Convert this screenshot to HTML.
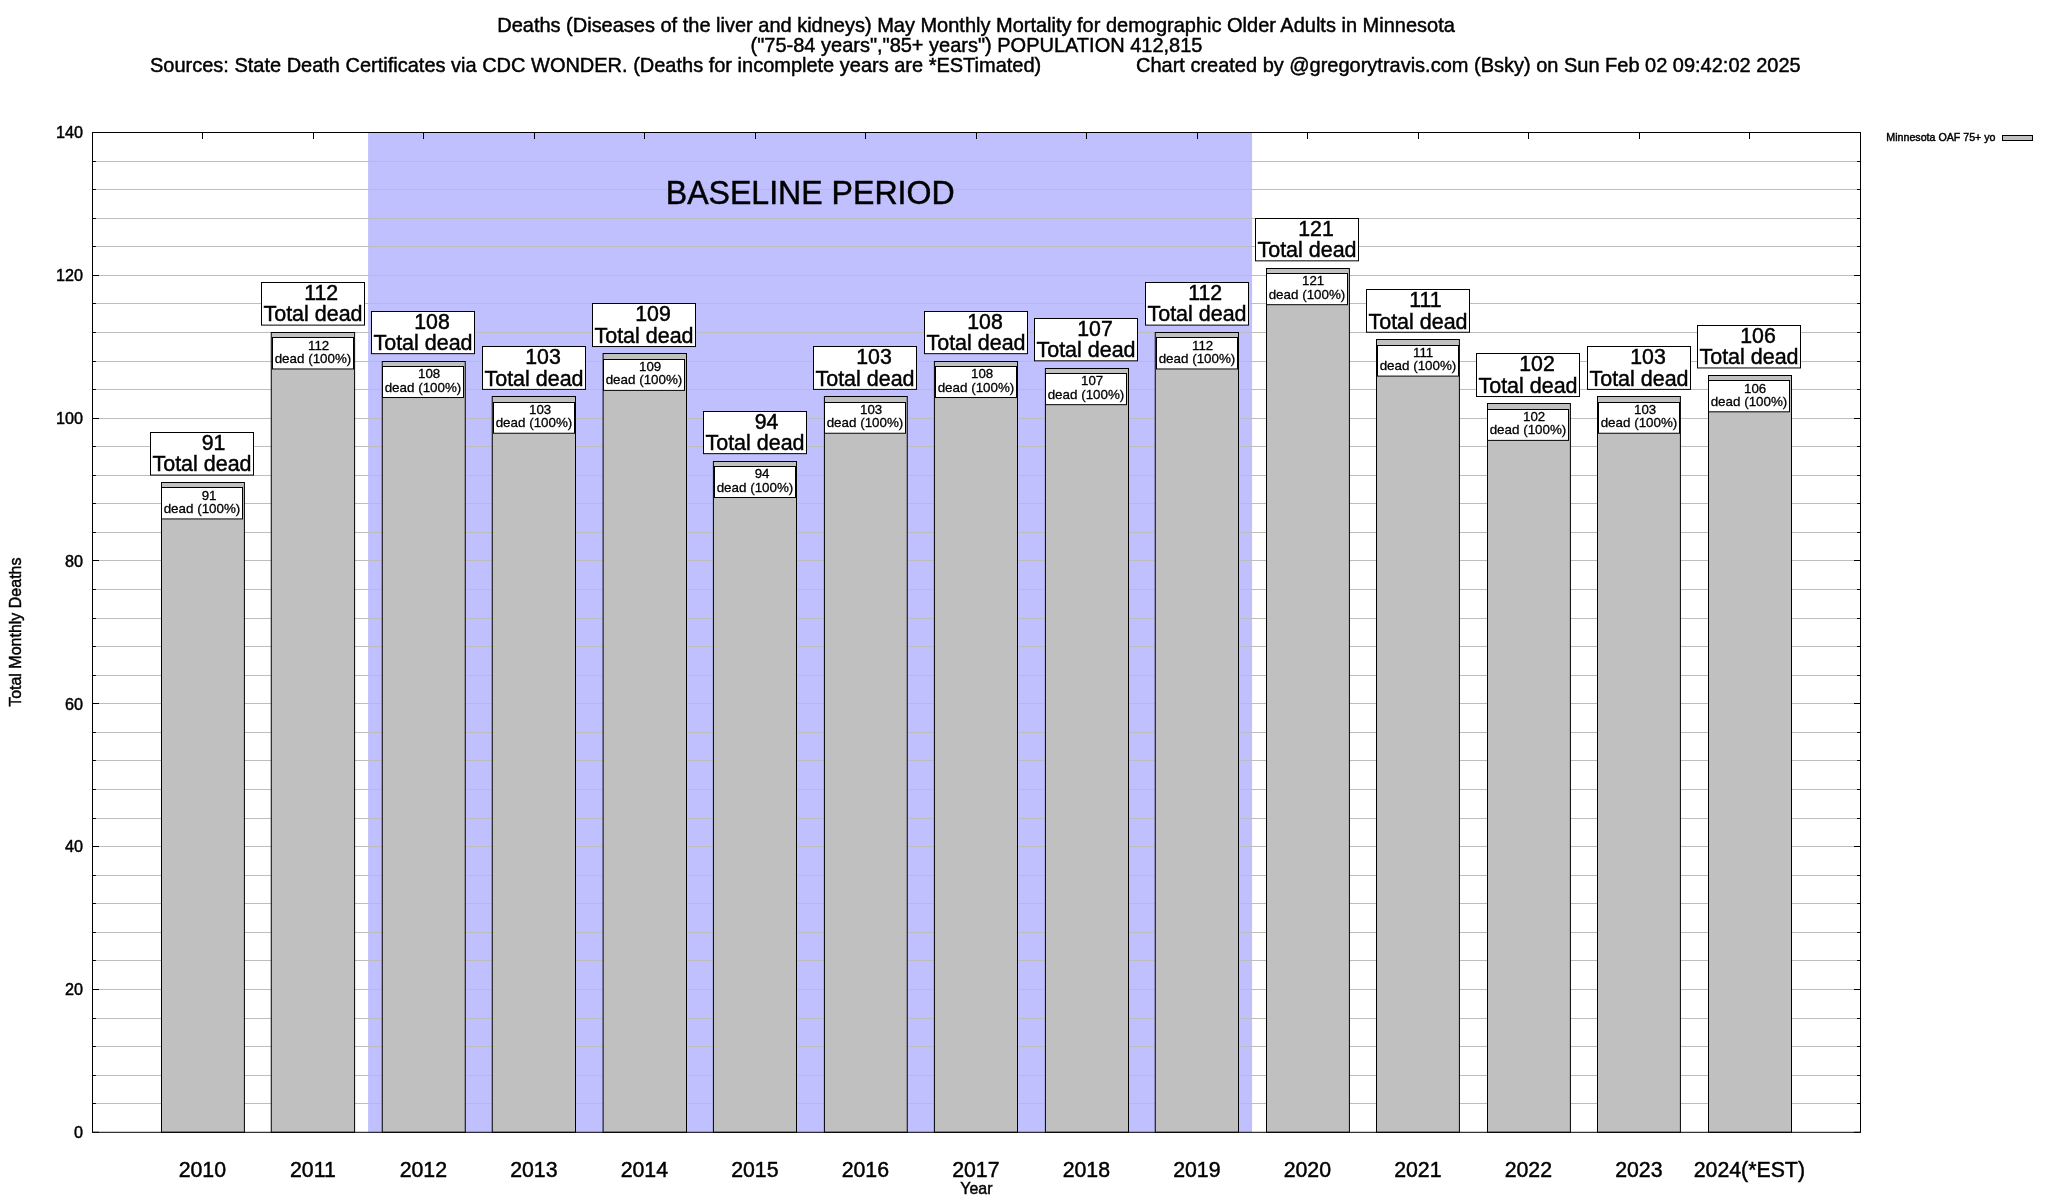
<!DOCTYPE html><html><head><meta charset="utf-8"><title>Deaths (Diseases of the liver and kidneys) May Monthly Mortality - Older Adults in Minnesota</title>
<style>html,body{margin:0;padding:0;background:#fff;width:2048px;height:1200px;overflow:hidden}svg{display:block;will-change:transform}text{font-family:'Liberation Sans',Arial,Helvetica,sans-serif;fill:#000;stroke:#000;stroke-width:0.45px}text.sm{stroke-width:0.3px}</style></head><body>
<svg width="2048" height="1200" viewBox="0 0 2048 1200">
<rect x="0" y="0" width="2048" height="1200" fill="#fff"/>
<text transform="translate(976.00 32.05) scale(1 1.040)" font-size="20" text-anchor="middle">Deaths (Diseases of the liver and kidneys) May Monthly Mortality for demographic Older Adults in Minnesota</text>
<text transform="translate(976.50 51.80) scale(1 1.040)" font-size="20" text-anchor="middle">("75-84 years","85+ years") POPULATION 412,815</text>
<text transform="translate(150.00 71.55) scale(1 1.040)" font-size="20">Sources: State Death Certificates via CDC WONDER. (Deaths for incomplete years are *ESTimated)</text>
<text transform="translate(1136.00 71.55) scale(1 1.040)" font-size="20">Chart created by @gregorytravis.com (Bsky) on Sun Feb 02 09:42:02 2025</text>
<rect x="368.1" y="132.50" width="884" height="999.80" fill="#c0c0ff"/>
<path d="M92.5 1103.5H1860.5M92.5 1075.5H1860.5M92.5 1046.5H1860.5M92.5 1018.5H1860.5M92.5 989.5H1860.5M92.5 960.5H1860.5M92.5 932.5H1860.5M92.5 903.5H1860.5M92.5 875.5H1860.5M92.5 846.5H1860.5M92.5 818.5H1860.5M92.5 789.5H1860.5M92.5 760.5H1860.5M92.5 732.5H1860.5M92.5 703.5H1860.5M92.5 675.5H1860.5M92.5 646.5H1860.5M92.5 618.5H1860.5M92.5 589.5H1860.5M92.5 560.5H1860.5M92.5 532.5H1860.5M92.5 503.5H1860.5M92.5 475.5H1860.5M92.5 446.5H1860.5M92.5 418.5H1860.5M92.5 389.5H1860.5M92.5 361.5H1860.5M92.5 332.5H1860.5M92.5 303.5H1860.5M92.5 275.5H1860.5M92.5 246.5H1860.5M92.5 218.5H1860.5M92.5 189.5H1860.5M92.5 161.5H1860.5" stroke="#bdbdbd" stroke-width="1" fill="none"/>
<text transform="translate(810.20 204.10) scale(1 1.040)" font-size="32.1" text-anchor="middle">BASELINE PERIOD</text>
<rect x="161.50" y="482.5" width="82.90" height="649.8" fill="#c0c0c0" stroke="#000" stroke-width="1"/>
<rect x="271.25" y="332.5" width="83.35" height="799.8" fill="#c0c0c0" stroke="#000" stroke-width="1"/>
<rect x="382.25" y="361.5" width="83.00" height="770.8" fill="#c0c0c0" stroke="#000" stroke-width="1"/>
<rect x="492.25" y="396.5" width="83.25" height="735.8" fill="#c0c0c0" stroke="#000" stroke-width="1"/>
<rect x="603.10" y="353.5" width="83.40" height="778.8" fill="#c0c0c0" stroke="#000" stroke-width="1"/>
<rect x="713.40" y="461.5" width="83.10" height="670.8" fill="#c0c0c0" stroke="#000" stroke-width="1"/>
<rect x="824.40" y="396.5" width="82.85" height="735.8" fill="#c0c0c0" stroke="#000" stroke-width="1"/>
<rect x="934.40" y="361.5" width="83.10" height="770.8" fill="#c0c0c0" stroke="#000" stroke-width="1"/>
<rect x="1045.40" y="368.5" width="83.10" height="763.8" fill="#c0c0c0" stroke="#000" stroke-width="1"/>
<rect x="1155.25" y="332.5" width="83.25" height="799.8" fill="#c0c0c0" stroke="#000" stroke-width="1"/>
<rect x="1266.50" y="268.5" width="82.90" height="863.8" fill="#c0c0c0" stroke="#000" stroke-width="1"/>
<rect x="1376.50" y="339.5" width="82.90" height="792.8" fill="#c0c0c0" stroke="#000" stroke-width="1"/>
<rect x="1487.50" y="403.5" width="82.90" height="728.8" fill="#c0c0c0" stroke="#000" stroke-width="1"/>
<rect x="1597.50" y="396.5" width="82.90" height="735.8" fill="#c0c0c0" stroke="#000" stroke-width="1"/>
<rect x="1708.50" y="375.5" width="83.00" height="756.8" fill="#c0c0c0" stroke="#000" stroke-width="1"/>
<rect x="150.50" y="432.50" width="103.00" height="42.58" fill="#fff" stroke="#000" stroke-width="1"/>
<text transform="translate(201.76 449.98) scale(1 1.040)" font-size="21.3">91</text>
<text transform="translate(202.00 471.43) scale(1 1.040)" font-size="21.48" text-anchor="middle">Total dead</text>
<rect x="161.50" y="487.50" width="81.00" height="31.43" fill="#fff" stroke="#000" stroke-width="1"/>
<text class="sm" transform="translate(201.69 499.73) scale(1 1.030)" font-size="13.3">91</text>
<text class="sm" transform="translate(202.00 512.93) scale(1 0.980)" font-size="13.4" text-anchor="middle">dead (100%)</text>
<rect x="261.50" y="282.50" width="103.00" height="42.61" fill="#fff" stroke="#000" stroke-width="1"/>
<text transform="translate(304.27 300.01) scale(1 1.040)" font-size="21.3">112</text>
<text transform="translate(313.00 321.46) scale(1 1.040)" font-size="21.48" text-anchor="middle">Total dead</text>
<rect x="272.50" y="337.50" width="81.00" height="31.46" fill="#fff" stroke="#000" stroke-width="1"/>
<text class="sm" transform="translate(307.99 349.76) scale(1 1.030)" font-size="13.3">112</text>
<text class="sm" transform="translate(313.00 362.96) scale(1 0.980)" font-size="13.4" text-anchor="middle">dead (100%)</text>
<rect x="371.50" y="311.50" width="103.00" height="42.18" fill="#fff" stroke="#000" stroke-width="1"/>
<text transform="translate(414.27 328.58) scale(1 1.040)" font-size="21.3">108</text>
<text transform="translate(423.00 350.03) scale(1 1.040)" font-size="21.48" text-anchor="middle">Total dead</text>
<rect x="382.50" y="366.50" width="81.00" height="31.03" fill="#fff" stroke="#000" stroke-width="1"/>
<text class="sm" transform="translate(417.99 378.33) scale(1 1.030)" font-size="13.3">108</text>
<text class="sm" transform="translate(423.00 391.53) scale(1 0.980)" font-size="13.4" text-anchor="middle">dead (100%)</text>
<rect x="482.50" y="346.50" width="103.00" height="42.89" fill="#fff" stroke="#000" stroke-width="1"/>
<text transform="translate(525.27 364.29) scale(1 1.040)" font-size="21.3">103</text>
<text transform="translate(534.00 385.74) scale(1 1.040)" font-size="21.48" text-anchor="middle">Total dead</text>
<rect x="493.50" y="402.50" width="81.00" height="30.74" fill="#fff" stroke="#000" stroke-width="1"/>
<text class="sm" transform="translate(528.99 414.04) scale(1 1.030)" font-size="13.3">103</text>
<text class="sm" transform="translate(534.00 427.24) scale(1 0.980)" font-size="13.4" text-anchor="middle">dead (100%)</text>
<rect x="592.50" y="303.50" width="103.00" height="43.04" fill="#fff" stroke="#000" stroke-width="1"/>
<text transform="translate(635.27 321.44) scale(1 1.040)" font-size="21.3">109</text>
<text transform="translate(644.00 342.89) scale(1 1.040)" font-size="21.48" text-anchor="middle">Total dead</text>
<rect x="603.50" y="359.50" width="81.00" height="30.89" fill="#fff" stroke="#000" stroke-width="1"/>
<text class="sm" transform="translate(638.99 371.19) scale(1 1.030)" font-size="13.3">109</text>
<text class="sm" transform="translate(644.00 384.39) scale(1 0.980)" font-size="13.4" text-anchor="middle">dead (100%)</text>
<rect x="703.50" y="411.50" width="103.00" height="42.16" fill="#fff" stroke="#000" stroke-width="1"/>
<text transform="translate(754.76 428.56) scale(1 1.040)" font-size="21.3">94</text>
<text transform="translate(755.00 450.01) scale(1 1.040)" font-size="21.48" text-anchor="middle">Total dead</text>
<rect x="714.50" y="466.50" width="81.00" height="31.01" fill="#fff" stroke="#000" stroke-width="1"/>
<text class="sm" transform="translate(754.69 478.31) scale(1 1.030)" font-size="13.3">94</text>
<text class="sm" transform="translate(755.00 491.51) scale(1 0.980)" font-size="13.4" text-anchor="middle">dead (100%)</text>
<rect x="813.50" y="346.50" width="103.00" height="42.89" fill="#fff" stroke="#000" stroke-width="1"/>
<text transform="translate(856.27 364.29) scale(1 1.040)" font-size="21.3">103</text>
<text transform="translate(865.00 385.74) scale(1 1.040)" font-size="21.48" text-anchor="middle">Total dead</text>
<rect x="824.50" y="402.50" width="81.00" height="30.74" fill="#fff" stroke="#000" stroke-width="1"/>
<text class="sm" transform="translate(859.99 414.04) scale(1 1.030)" font-size="13.3">103</text>
<text class="sm" transform="translate(865.00 427.24) scale(1 0.980)" font-size="13.4" text-anchor="middle">dead (100%)</text>
<rect x="924.50" y="311.50" width="103.00" height="42.18" fill="#fff" stroke="#000" stroke-width="1"/>
<text transform="translate(967.27 328.58) scale(1 1.040)" font-size="21.3">108</text>
<text transform="translate(976.00 350.03) scale(1 1.040)" font-size="21.48" text-anchor="middle">Total dead</text>
<rect x="935.50" y="366.50" width="81.00" height="31.03" fill="#fff" stroke="#000" stroke-width="1"/>
<text class="sm" transform="translate(970.99 378.33) scale(1 1.030)" font-size="13.3">108</text>
<text class="sm" transform="translate(976.00 391.53) scale(1 0.980)" font-size="13.4" text-anchor="middle">dead (100%)</text>
<rect x="1034.50" y="318.50" width="103.00" height="42.32" fill="#fff" stroke="#000" stroke-width="1"/>
<text transform="translate(1077.27 335.72) scale(1 1.040)" font-size="21.3">107</text>
<text transform="translate(1086.00 357.17) scale(1 1.040)" font-size="21.48" text-anchor="middle">Total dead</text>
<rect x="1045.50" y="373.50" width="81.00" height="31.17" fill="#fff" stroke="#000" stroke-width="1"/>
<text class="sm" transform="translate(1080.99 385.47) scale(1 1.030)" font-size="13.3">107</text>
<text class="sm" transform="translate(1086.00 398.67) scale(1 0.980)" font-size="13.4" text-anchor="middle">dead (100%)</text>
<rect x="1145.50" y="282.50" width="103.00" height="42.61" fill="#fff" stroke="#000" stroke-width="1"/>
<text transform="translate(1188.27 300.01) scale(1 1.040)" font-size="21.3">112</text>
<text transform="translate(1197.00 321.46) scale(1 1.040)" font-size="21.48" text-anchor="middle">Total dead</text>
<rect x="1156.50" y="337.50" width="81.00" height="31.46" fill="#fff" stroke="#000" stroke-width="1"/>
<text class="sm" transform="translate(1191.99 349.76) scale(1 1.030)" font-size="13.3">112</text>
<text class="sm" transform="translate(1197.00 362.96) scale(1 0.980)" font-size="13.4" text-anchor="middle">dead (100%)</text>
<rect x="1255.50" y="218.50" width="103.00" height="42.34" fill="#fff" stroke="#000" stroke-width="1"/>
<text transform="translate(1298.27 235.74) scale(1 1.040)" font-size="21.3">121</text>
<text transform="translate(1307.00 257.19) scale(1 1.040)" font-size="21.48" text-anchor="middle">Total dead</text>
<rect x="1266.50" y="273.50" width="81.00" height="31.19" fill="#fff" stroke="#000" stroke-width="1"/>
<text class="sm" transform="translate(1301.99 285.49) scale(1 1.030)" font-size="13.3">121</text>
<text class="sm" transform="translate(1307.00 298.69) scale(1 0.980)" font-size="13.4" text-anchor="middle">dead (100%)</text>
<rect x="1366.50" y="289.50" width="103.00" height="42.75" fill="#fff" stroke="#000" stroke-width="1"/>
<text transform="translate(1409.27 307.15) scale(1 1.040)" font-size="21.3">111</text>
<text transform="translate(1418.00 328.60) scale(1 1.040)" font-size="21.48" text-anchor="middle">Total dead</text>
<rect x="1377.50" y="345.50" width="81.00" height="30.60" fill="#fff" stroke="#000" stroke-width="1"/>
<text class="sm" transform="translate(1412.99 356.90) scale(1 1.030)" font-size="13.3">111</text>
<text class="sm" transform="translate(1418.00 370.10) scale(1 0.980)" font-size="13.4" text-anchor="middle">dead (100%)</text>
<rect x="1476.50" y="353.50" width="103.00" height="43.03" fill="#fff" stroke="#000" stroke-width="1"/>
<text transform="translate(1519.27 371.43) scale(1 1.040)" font-size="21.3">102</text>
<text transform="translate(1528.00 392.88) scale(1 1.040)" font-size="21.48" text-anchor="middle">Total dead</text>
<rect x="1487.50" y="409.50" width="81.00" height="30.88" fill="#fff" stroke="#000" stroke-width="1"/>
<text class="sm" transform="translate(1522.99 421.18) scale(1 1.030)" font-size="13.3">102</text>
<text class="sm" transform="translate(1528.00 434.38) scale(1 0.980)" font-size="13.4" text-anchor="middle">dead (100%)</text>
<rect x="1587.50" y="346.50" width="103.00" height="42.89" fill="#fff" stroke="#000" stroke-width="1"/>
<text transform="translate(1630.27 364.29) scale(1 1.040)" font-size="21.3">103</text>
<text transform="translate(1639.00 385.74) scale(1 1.040)" font-size="21.48" text-anchor="middle">Total dead</text>
<rect x="1598.50" y="402.50" width="81.00" height="30.74" fill="#fff" stroke="#000" stroke-width="1"/>
<text class="sm" transform="translate(1633.99 414.04) scale(1 1.030)" font-size="13.3">103</text>
<text class="sm" transform="translate(1639.00 427.24) scale(1 0.980)" font-size="13.4" text-anchor="middle">dead (100%)</text>
<rect x="1697.50" y="325.50" width="103.00" height="42.46" fill="#fff" stroke="#000" stroke-width="1"/>
<text transform="translate(1740.27 342.86) scale(1 1.040)" font-size="21.3">106</text>
<text transform="translate(1749.00 364.31) scale(1 1.040)" font-size="21.48" text-anchor="middle">Total dead</text>
<rect x="1708.50" y="380.50" width="81.00" height="31.31" fill="#fff" stroke="#000" stroke-width="1"/>
<text class="sm" transform="translate(1743.99 392.61) scale(1 1.030)" font-size="13.3">106</text>
<text class="sm" transform="translate(1749.00 405.81) scale(1 0.980)" font-size="13.4" text-anchor="middle">dead (100%)</text>
<path d="M92.5 1132.3h6.5M1860.5 1132.3h-6.5M92.5 1103.5h3.4M1860.5 1103.5h-3.4M92.5 1075.5h3.4M1860.5 1075.5h-3.4M92.5 1046.5h3.4M1860.5 1046.5h-3.4M92.5 1018.5h3.4M1860.5 1018.5h-3.4M92.5 989.5h6.5M1860.5 989.5h-6.5M92.5 960.5h3.4M1860.5 960.5h-3.4M92.5 932.5h3.4M1860.5 932.5h-3.4M92.5 903.5h3.4M1860.5 903.5h-3.4M92.5 875.5h3.4M1860.5 875.5h-3.4M92.5 846.5h6.5M1860.5 846.5h-6.5M92.5 818.5h3.4M1860.5 818.5h-3.4M92.5 789.5h3.4M1860.5 789.5h-3.4M92.5 760.5h3.4M1860.5 760.5h-3.4M92.5 732.5h3.4M1860.5 732.5h-3.4M92.5 703.5h6.5M1860.5 703.5h-6.5M92.5 675.5h3.4M1860.5 675.5h-3.4M92.5 646.5h3.4M1860.5 646.5h-3.4M92.5 618.5h3.4M1860.5 618.5h-3.4M92.5 589.5h3.4M1860.5 589.5h-3.4M92.5 560.5h6.5M1860.5 560.5h-6.5M92.5 532.5h3.4M1860.5 532.5h-3.4M92.5 503.5h3.4M1860.5 503.5h-3.4M92.5 475.5h3.4M1860.5 475.5h-3.4M92.5 446.5h3.4M1860.5 446.5h-3.4M92.5 418.5h6.5M1860.5 418.5h-6.5M92.5 389.5h3.4M1860.5 389.5h-3.4M92.5 361.5h3.4M1860.5 361.5h-3.4M92.5 332.5h3.4M1860.5 332.5h-3.4M92.5 303.5h3.4M1860.5 303.5h-3.4M92.5 275.5h6.5M1860.5 275.5h-6.5M92.5 246.5h3.4M1860.5 246.5h-3.4M92.5 218.5h3.4M1860.5 218.5h-3.4M92.5 189.5h3.4M1860.5 189.5h-3.4M92.5 161.5h3.4M1860.5 161.5h-3.4M92.5 132.5h6.5M1860.5 132.5h-6.5M202.5 132.5v6.5M313.5 132.5v6.5M423.5 132.5v6.5M534.5 132.5v6.5M644.5 132.5v6.5M755.5 132.5v6.5M865.5 132.5v6.5M976.5 132.5v6.5M1086.5 132.5v6.5M1197.5 132.5v6.5M1307.5 132.5v6.5M1418.5 132.5v6.5M1528.5 132.5v6.5M1639.5 132.5v6.5M1749.5 132.5v6.5" stroke="#000" stroke-width="1" fill="none"/>
<rect x="92.5" y="132.5" width="1768.0" height="999.8" fill="none" stroke="#000" stroke-width="1"/>
<text transform="translate(83.00 1138.00) scale(1 1.040)" font-size="16.2" text-anchor="end">0</text>
<text transform="translate(83.00 995.17) scale(1 1.040)" font-size="16.2" text-anchor="end">20</text>
<text transform="translate(83.00 852.34) scale(1 1.040)" font-size="16.2" text-anchor="end">40</text>
<text transform="translate(83.00 709.52) scale(1 1.040)" font-size="16.2" text-anchor="end">60</text>
<text transform="translate(83.00 566.69) scale(1 1.040)" font-size="16.2" text-anchor="end">80</text>
<text transform="translate(83.00 423.86) scale(1 1.040)" font-size="16.2" text-anchor="end">100</text>
<text transform="translate(83.00 281.03) scale(1 1.040)" font-size="16.2" text-anchor="end">120</text>
<text transform="translate(83.00 138.20) scale(1 1.040)" font-size="16.2" text-anchor="end">140</text>
<text transform="translate(202.35 1176.90) scale(1 1.040)" font-size="21.3" text-anchor="middle">2010</text>
<text transform="translate(312.85 1176.90) scale(1 1.040)" font-size="21.3" text-anchor="middle">2011</text>
<text transform="translate(423.35 1176.90) scale(1 1.040)" font-size="21.3" text-anchor="middle">2012</text>
<text transform="translate(533.85 1176.90) scale(1 1.040)" font-size="21.3" text-anchor="middle">2013</text>
<text transform="translate(644.35 1176.90) scale(1 1.040)" font-size="21.3" text-anchor="middle">2014</text>
<text transform="translate(754.85 1176.90) scale(1 1.040)" font-size="21.3" text-anchor="middle">2015</text>
<text transform="translate(865.35 1176.90) scale(1 1.040)" font-size="21.3" text-anchor="middle">2016</text>
<text transform="translate(975.85 1176.90) scale(1 1.040)" font-size="21.3" text-anchor="middle">2017</text>
<text transform="translate(1086.35 1176.90) scale(1 1.040)" font-size="21.3" text-anchor="middle">2018</text>
<text transform="translate(1196.85 1176.90) scale(1 1.040)" font-size="21.3" text-anchor="middle">2019</text>
<text transform="translate(1307.35 1176.90) scale(1 1.040)" font-size="21.3" text-anchor="middle">2020</text>
<text transform="translate(1417.85 1176.90) scale(1 1.040)" font-size="21.3" text-anchor="middle">2021</text>
<text transform="translate(1528.35 1176.90) scale(1 1.040)" font-size="21.3" text-anchor="middle">2022</text>
<text transform="translate(1638.85 1176.90) scale(1 1.040)" font-size="21.3" text-anchor="middle">2023</text>
<text transform="translate(1749.35 1176.90) scale(1 1.040)" font-size="21.3" text-anchor="middle">2024(*EST)</text>
<text transform="translate(976.40 1193.80) scale(1 1.040)" font-size="15.9" text-anchor="middle">Year</text>
<text transform="translate(21.00 632.20) rotate(-90) scale(1 1.040)" font-size="16" text-anchor="middle">Total Monthly Deaths</text>
<text transform="translate(1995.50 140.80) scale(1 1.040)" font-size="10.65" text-anchor="end">Minnesota OAF 75+ yo</text>
<rect x="2002.5" y="135.5" width="30" height="5" fill="#c0c0c0" stroke="#000" stroke-width="1"/>
</svg></body></html>
